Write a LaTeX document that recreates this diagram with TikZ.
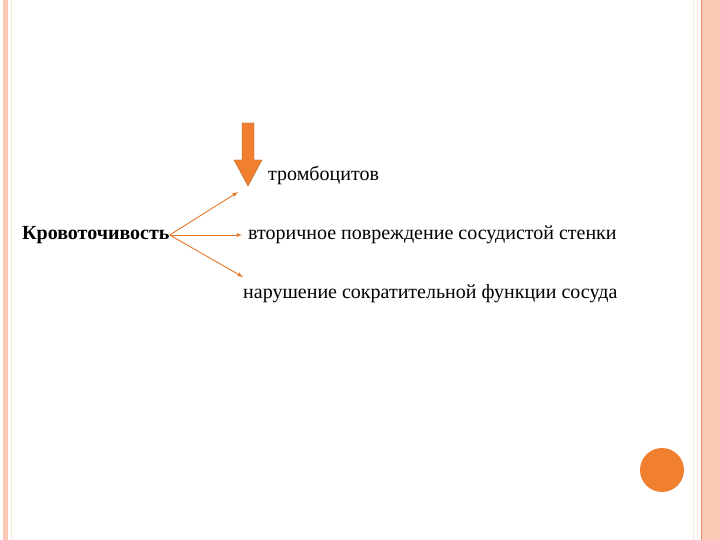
\documentclass[tikz,border=0pt]{standalone}
\usepackage{fontspec}
\setmainfont{Liberation Serif}
\usetikzlibrary{arrows,positioning}
\definecolor{rim}{RGB}{252,200,182}
\definecolor{rimdark}{RGB}{236,140,100}
\definecolor{pale}{RGB}{245,235,215}
\definecolor{orng}{RGB}{240,128,48}
\definecolor{lnorng}{RGB}{228,118,40}
\tikzset{font=\fontsize{20}{24}\selectfont}
\tikzset{every node/.append style={inner sep=0pt}}

\begin{document}
\begin{tikzpicture}[x=1pt,y=-1pt]
\useasboundingbox (0,0) rectangle (720,540);
% border stripes
\fill[rim] (3,0) rectangle (8,540);
\draw[pale] (11,0) -- (11,540);
\fill[rim] (701,0) rectangle (720,540);
\draw[rimdark,line width=.8pt] (701.5,0) -- (701.5,540);
\foreach \x in {693, 697.5}
\draw[pale,line width=1pt] (\x,0) -- (\x,540);
% block arrow
\fill[orng,draw=lnorng!80!black,line width=.4pt] (242,123) -- (254,123) -- (254,160) -- (262,160)
  -- (248,186) -- (234,160) -- (242,160) -- cycle;
% texts
\node[anchor=west] (tromb) at (268,175) {тромбоцитов};
\node[anchor=west,font=\fontsize{20}{24}\selectfont\bfseries] (krov) at (22,235) {Кровоточивость};
\node[anchor=west] (vtor) at (248,235) {вторичное повреждение сосудистой стенки};
\node[anchor=west] (narush) at (243,294) {нарушение сократительной функции сосуда};
\coordinate (up) at (238,192);
% arrows
\draw[lnorng,line width=.9pt,-latex] (krov.east) -- (up);
\draw[lnorng,line width=.9pt,-latex] (krov.east) -- ([xshift=-6pt]vtor.west);
\draw[lnorng,line width=.9pt,-latex] (krov.east) -- ([yshift=17pt]narush.west);
% circle
\fill[orng] (662,470) circle (22);
\end{tikzpicture}
\end{document}
